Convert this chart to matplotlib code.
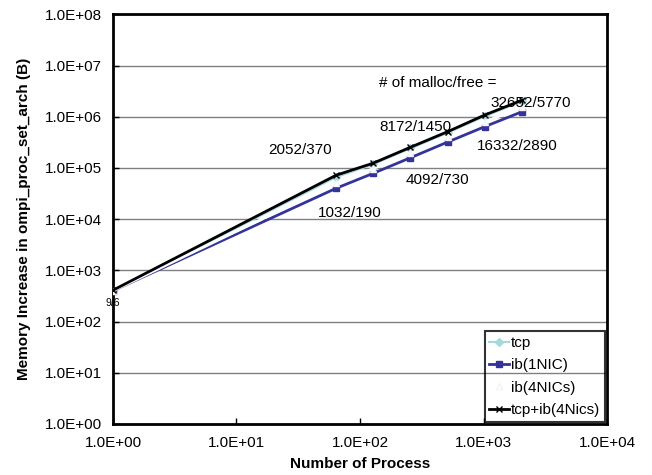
import matplotlib.pyplot as plt
from matplotlib.ticker import FuncFormatter, FixedLocator

plt.rcParams['font.family'] = ['Liberation Sans', 'DejaVu Sans']

procs = [1, 64, 128, 256, 512, 1024, 2048]
tcp = [400, 66000, 118000, 240000, 485000, 1.02e6, 2.0e6]
ib_1nic = [400, 40000, 78500, 158000, 320000, 640000, 1.25e6]
ib_4nics = [400, 50000, 97000, 195000, 395000, 790000, 1.55e6]
tcp_ib_4nics = [410, 72000, 124000, 253000, 510000, 1.08e6, 2.1e6]

malloc_labels = ["9/6", "1032/190", "2052/370", "4092/730",
                 "8172/1450", "16332/2890", "32652/5770"]
label_x = [1, 83, 33, 421, 279, 1870, 2390]
label_y = [230, 13300, 2.24e5, 5.8e4, 6.3e5, 2.68e5, 1.85e6]

fig = plt.figure(figsize=(6.52, 4.75), dpi=100)
ax = fig.add_axes([0.1733, 0.1074, 0.7577, 0.8625])

ax.plot(procs, tcp, color='#a6d9dd', marker='D', markersize=4, lw=1.5,
        label='tcp', zorder=2)
ax.plot(procs, ib_1nic, color='#333399', marker='s', markersize=5, lw=2,
        label='ib(1NIC)', zorder=3)
ax.plot(procs, ib_4nics, color='white', marker='^', markersize=5,
        markeredgecolor='#f4f4f4', lw=2, label='ib(4NICs)', zorder=4)
ax.plot(procs, tcp_ib_4nics, color='black', marker='x', markersize=5,
        mew=1, lw=2, label='tcp+ib(4Nics)', zorder=5)

for txt, x, y in zip(malloc_labels, label_x, label_y):
    fs = 7.5 if txt == "9/6" else 11
    ax.text(x, y, txt, ha='center', va='center', fontsize=fs, zorder=6)
ax.text(428, 4.55e6, "# of malloc/free =", ha='center', va='center',
        fontsize=11, zorder=6)

ax.set_xscale('log')
ax.set_yscale('log')
ax.set_xlim(1, 1e4)
ax.set_ylim(1, 1e8)
ax.xaxis.set_major_locator(FixedLocator([1, 10, 100, 1000, 10000]))
ax.yaxis.set_major_locator(FixedLocator([10 ** i for i in range(9)]))
ax.minorticks_off()
fmt = FuncFormatter(lambda v, p: "{:.1E}".format(v))
ax.xaxis.set_major_formatter(fmt)
ax.yaxis.set_major_formatter(fmt)
ax.tick_params(direction='in', length=4, width=1, labelsize=11, pad=8)
ax.tick_params(axis='x', pad=9)

ax.grid(axis='y', color='#808080', lw=1)
ax.set_axisbelow(True)
for s in ax.spines.values():
    s.set_linewidth(2)
    s.set_color('black')

ax.set_xlabel("Number of Process", fontsize=11, fontweight='bold', labelpad=5)
ax.set_ylabel("Memory Increase in ompi_proc_set_arch (B)", fontsize=11,
              fontweight='bold', labelpad=10)

leg = ax.legend(loc='lower right', fontsize=11, frameon=True, fancybox=False,
                handlelength=1.3, handletextpad=0.1, borderaxespad=0.15,
                labelspacing=0.55, borderpad=0.3)
leg.get_frame().set_edgecolor('black')
leg.get_frame().set_facecolor('none')
leg.get_frame().set_linewidth(1.5)

fig.savefig("out.png", dpi=100)
